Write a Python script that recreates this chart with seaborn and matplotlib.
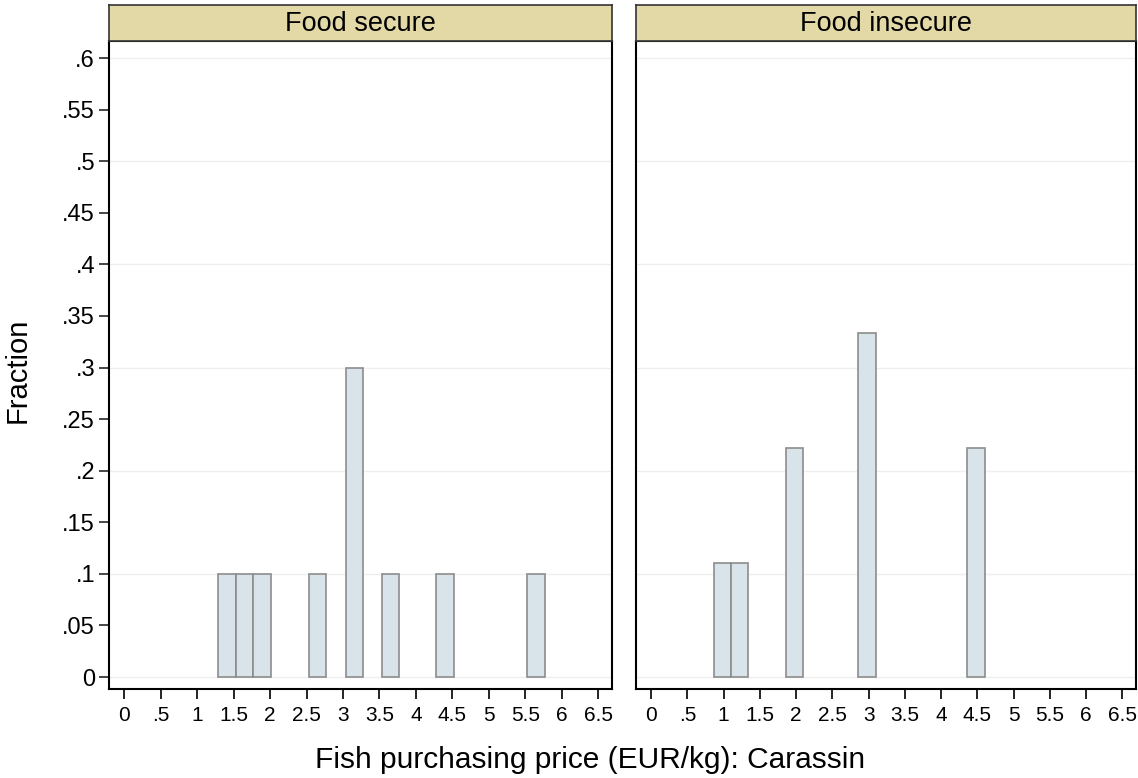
import matplotlib
matplotlib.use("Agg")
import matplotlib.pyplot as plt
import seaborn as sns
import numpy as np

# data: bin left edges and fraction per bin
panels = ["Food secure", "Food insecure"]
secure_left = [1.29, 1.53, 1.77, 2.53, 3.04, 3.53, 4.28, 5.53]
secure_frac = [0.1, 0.1, 0.1, 0.1, 0.3, 0.1, 0.1, 0.1]
insecure_left = [0.86, 1.10, 1.86, 2.86, 4.36]
insecure_frac = [0.111, 0.111, 0.222, 0.333, 0.222]
bin_width = 0.24

x_ticks = np.arange(0, 6.51, 0.5)
x_ticklabels = ["0", ".5", "1", "1.5", "2", "2.5", "3", "3.5", "4", "4.5", "5", "5.5", "6", "6.5"]
y_ticks = np.arange(0, 0.61, 0.05)
y_ticklabels = ["0", ".05", ".1", ".15", ".2", ".25", ".3", ".35", ".4", ".45", ".5", ".55", ".6"]

sns.set_theme(style="white")
plt.rcParams["font.family"] = ["Liberation Sans", "DejaVu Sans"]
plt.rcParams["text.color"] = "black"

W, H = 1138, 778
fig = plt.figure(figsize=(W / 100, H / 100), dpi=100)

# pixel boxes (left, right) for the two panels
boxes = [(109, 612), (636, 1136)]
top_px, bot_px, head_px = 41, 689, 5

data = [(secure_left, secure_frac), (insecure_left, insecure_frac)]

for i, ((l, r), title, (lefts, fracs)) in enumerate(zip(boxes, panels, data)):
    ax = fig.add_axes([l / W, 1 - bot_px / H, (r - l) / W, (bot_px - top_px) / H])
    ax.bar(lefts, fracs, width=bin_width, align="edge",
           color="#D8E4EA", edgecolor="#8C8C8C", linewidth=1.2, zorder=3)
    ax.set_xlim(-0.21, 6.69)
    ax.set_ylim(-0.0116, 0.6165)
    ax.set_xticks(x_ticks)
    ax.set_xticklabels(x_ticklabels, fontsize=15)
    ax.set_yticks(y_ticks)
    for yv in np.arange(0, 0.61, 0.1):
        ax.axhline(yv, color="#EFEFEF", linewidth=1, zorder=1)
    if i == 0:
        ax.set_yticklabels(y_ticklabels, fontsize=17)
        ax.tick_params(axis="y", left=True, length=7, width=1.2, pad=3)
    else:
        ax.tick_params(axis="y", left=False, labelleft=False)
    ax.tick_params(axis="x", bottom=True, length=7, width=1.2, pad=5, colors="black")
    ax.tick_params(axis="both", labelcolor="black")
    for s in ax.spines.values():
        s.set_color("black")
        s.set_linewidth(1.5)

    # header strip
    hax = fig.add_axes([l / W, 1 - top_px / H, (r - l) / W, (top_px - head_px) / H])
    hax.set_facecolor("#E3D9A6")
    hax.set_xticks([])
    hax.set_yticks([])
    for s in hax.spines.values():
        s.set_color("#333333")
        s.set_linewidth(1.2)
    hax.text(0.5, 0.47, title, ha="center", va="center", fontsize=19.5, transform=hax.transAxes)

fig.text(18 / W, 1 - 370 / H, "Fraction", rotation=90, ha="center", va="center", fontsize=21)
fig.text(590 / W, 1 - 760 / H, "Fish purchasing price (EUR/kg): Carassin",
         ha="center", va="center", fontsize=21.5)

fig.savefig("out.png", dpi=100, facecolor="white")
